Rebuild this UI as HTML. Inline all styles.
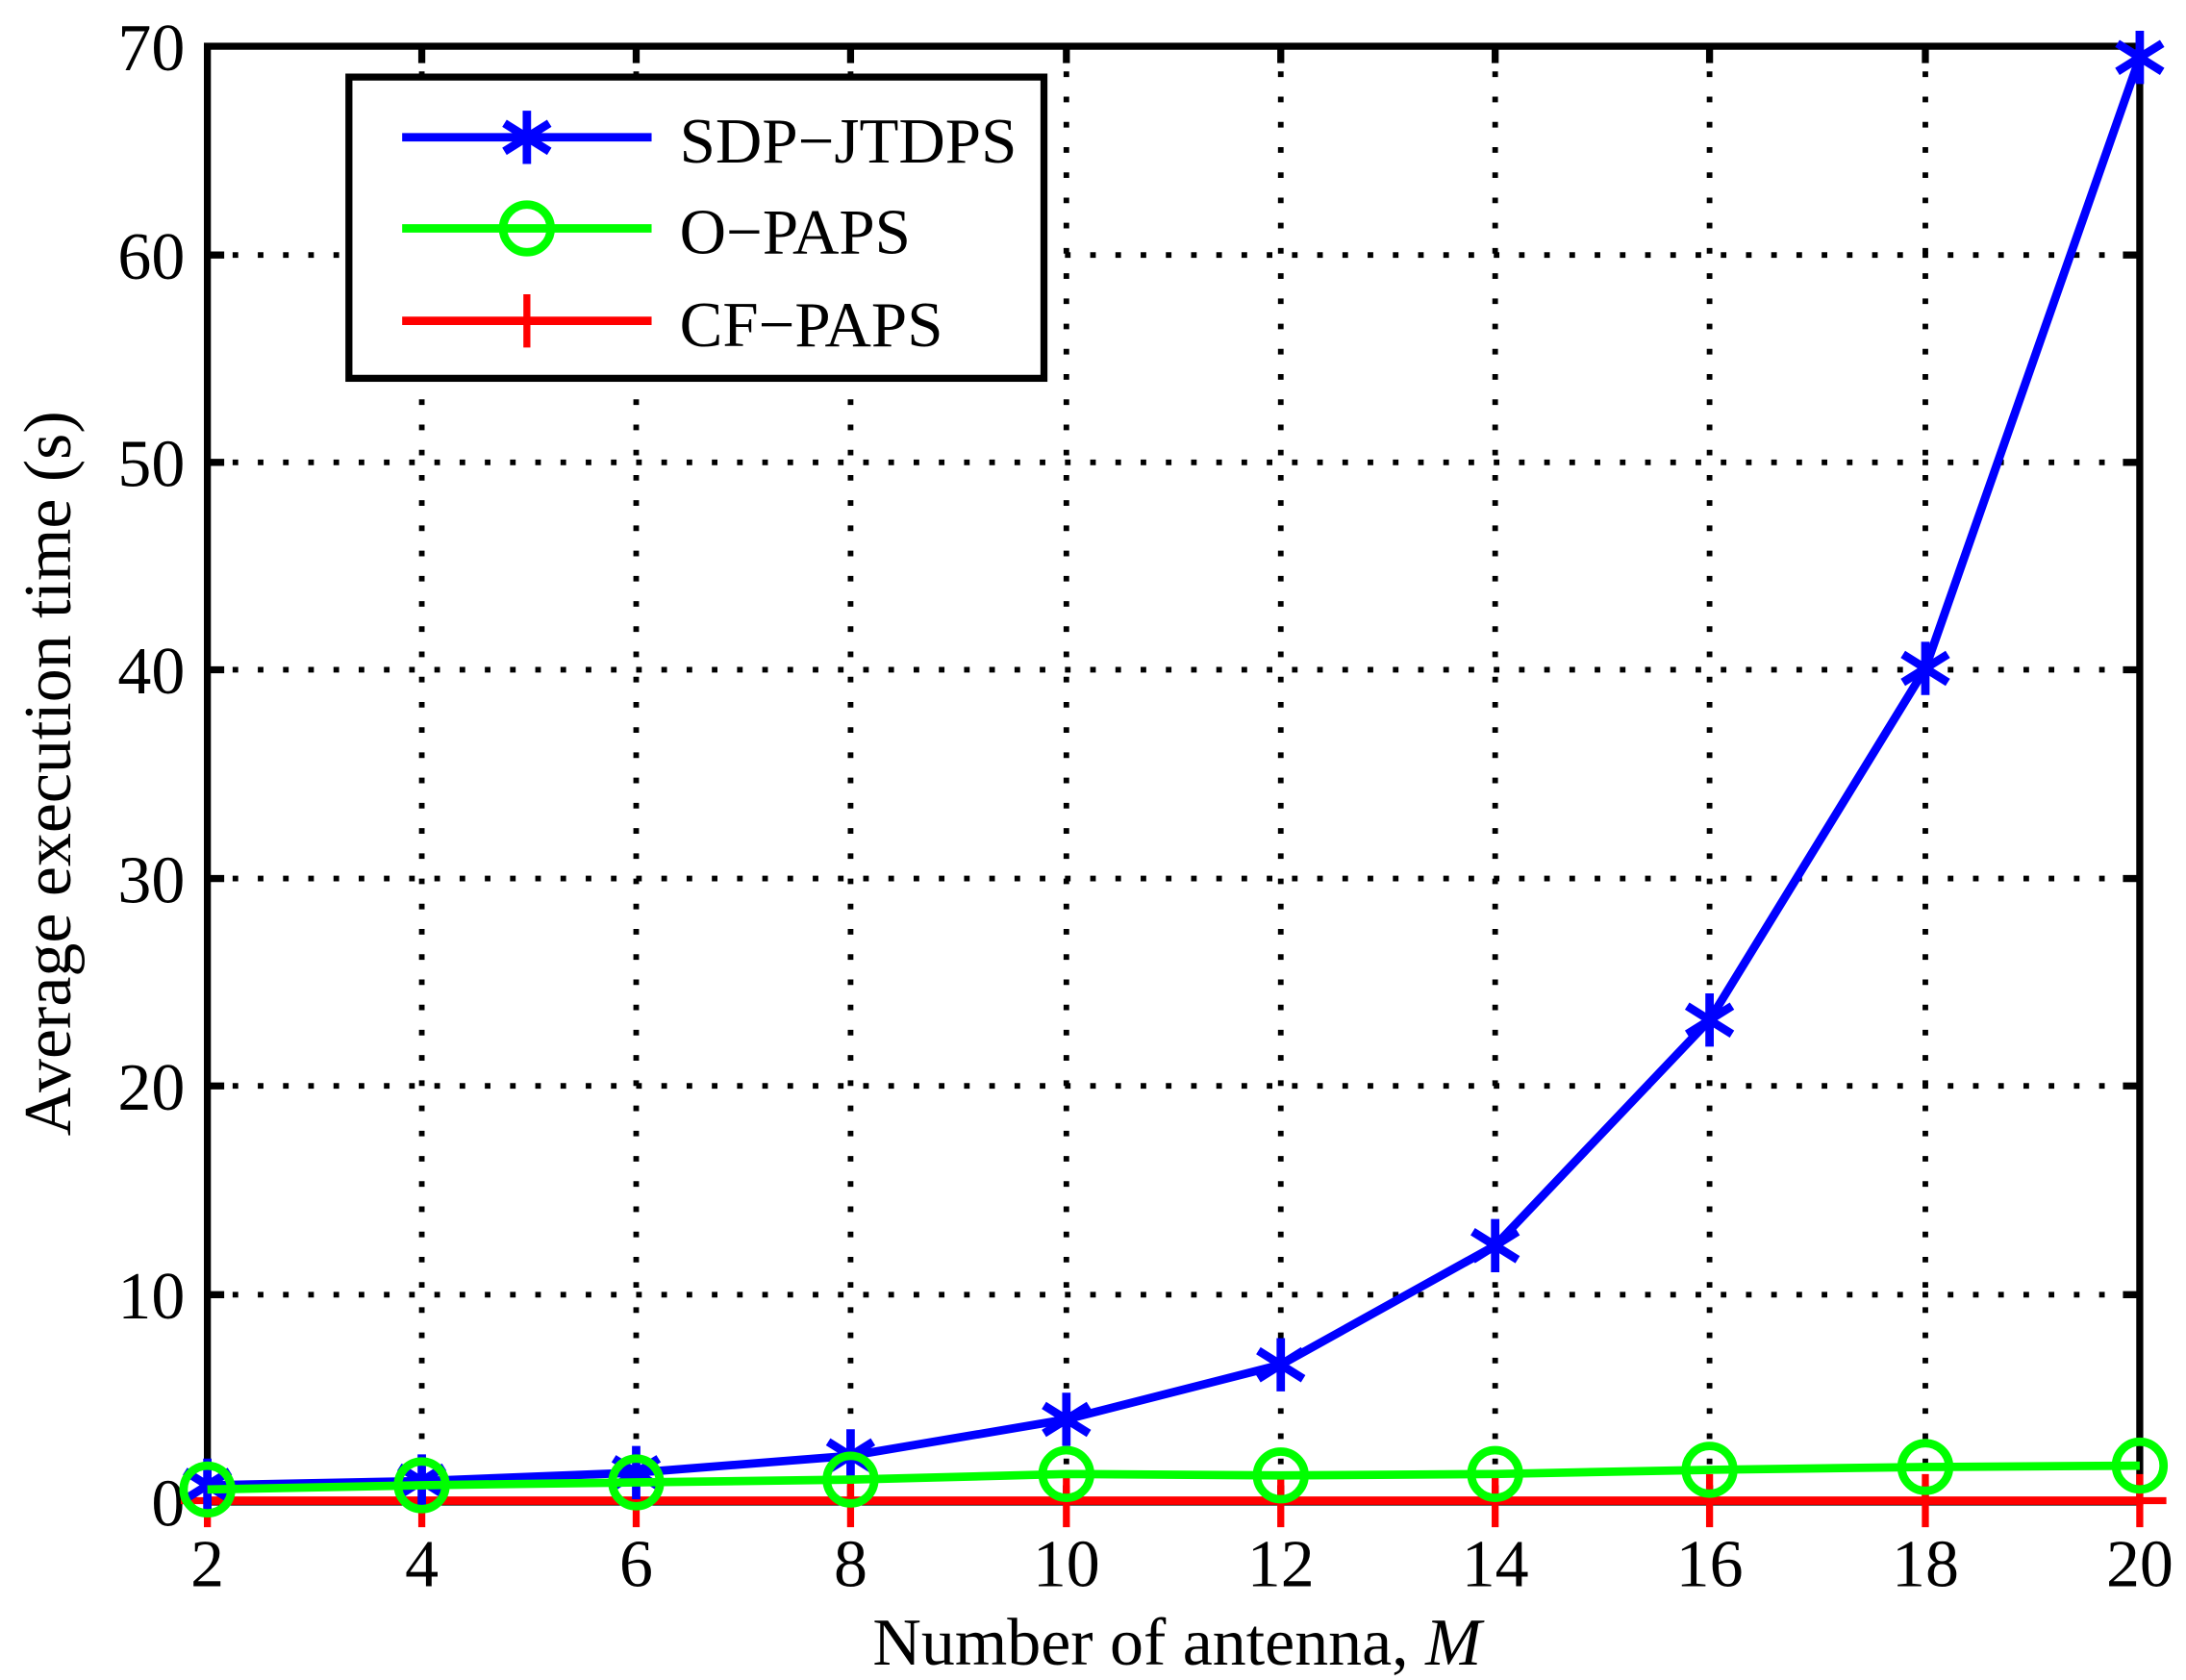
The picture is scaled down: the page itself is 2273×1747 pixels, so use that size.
<!DOCTYPE html>
<html><head><style>html,body{margin:0;padding:0;background:#fff}svg{display:block}</style></head>
<body>
<svg width="2273" height="1747" viewBox="0 0 1560 1199" preserveAspectRatio="none" xmlns="http://www.w3.org/2000/svg" font-family="Liberation Serif, serif">
<rect width="1560" height="1199" fill="#fff"/>
<g stroke="#000" stroke-width="4" stroke-dasharray="4 14">
<line x1="301" y1="33" x2="301" y2="1072"/><line x1="454" y1="33" x2="454" y2="1072"/><line x1="607" y1="33" x2="607" y2="1072"/><line x1="761" y1="33" x2="761" y2="1072"/><line x1="914" y1="33" x2="914" y2="1072"/><line x1="1067" y1="33" x2="1067" y2="1072"/><line x1="1220" y1="33" x2="1220" y2="1072"/><line x1="1374" y1="33" x2="1374" y2="1072"/>
<line x1="148" y1="924" x2="1527" y2="924"/><line x1="148" y1="775" x2="1527" y2="775"/><line x1="148" y1="627" x2="1527" y2="627"/><line x1="148" y1="478" x2="1527" y2="478"/><line x1="148" y1="330" x2="1527" y2="330"/><line x1="148" y1="182" x2="1527" y2="182"/>
</g>
<g stroke="#000" stroke-width="5">
<path d="M301 33v12M454 33v12M607 33v12M761 33v12M914 33v12M1067 33v12M1220 33v12M1374 33v12M301 1072v-12M454 1072v-12M607 1072v-12M761 1072v-12M914 1072v-12M1067 1072v-12M1220 1072v-12M1374 1072v-12"/>
<path d="M148 924h12M148 775h12M148 627h12M148 478h12M148 330h12M148 182h12M1527 924h-12M1527 775h-12M1527 627h-12M1527 478h-12M1527 330h-12M1527 182h-12"/>
<rect x="148" y="33" width="1379" height="1039" fill="none"/>
</g>
<g font-size="48" text-anchor="end">
<text x="132" y="1089">0</text><text x="132" y="941">10</text><text x="132" y="792">20</text><text x="132" y="644">30</text><text x="132" y="495">40</text><text x="132" y="347">50</text><text x="132" y="199">60</text><text x="132" y="50">70</text>
</g>
<g font-size="48" text-anchor="middle">
<text x="148" y="1132">2</text><text x="301" y="1132">4</text><text x="454" y="1132">6</text><text x="607" y="1132">8</text><text x="761" y="1132">10</text><text x="914" y="1132">12</text><text x="1067" y="1132">14</text><text x="1220" y="1132">16</text><text x="1374" y="1132">18</text><text x="1527" y="1132">20</text>
<text x="840" y="1188">Number of antenna,  <tspan font-style="italic">M</tspan></text>
<text transform="translate(50,552) rotate(-90)">Average execution time (s)</text>
</g>
<defs>
<g id="ast" stroke="#00f" stroke-width="6"><path d="M0 -19V19M-16 -10L16 10M-16 10L16 -10"/></g>
<circle id="cir" r="17" fill="none" stroke="#0f0" stroke-width="6"/>
<path id="pl" d="M0 -19V19M-19 0H19" stroke="#f00" stroke-width="5"/>
</defs>
<polyline fill="none" stroke="#f00" stroke-width="6" points="148,1071 1527,1071"/>
<g><use href="#pl" x="148" y="1071"/><use href="#pl" x="301" y="1071"/><use href="#pl" x="454" y="1071"/><use href="#pl" x="607" y="1071"/><use href="#pl" x="761" y="1071"/><use href="#pl" x="914" y="1071"/><use href="#pl" x="1067" y="1071"/><use href="#pl" x="1220" y="1071"/><use href="#pl" x="1374" y="1071"/><use href="#pl" x="1527" y="1071"/></g>
<polyline fill="none" stroke="#00f" stroke-width="6" points="148,1060 301,1057 454,1051 607,1039 761,1013 914,974 1067,889 1220,728 1374,477 1527,41"/>
<g><use href="#ast" x="148" y="1060"/><use href="#ast" x="301" y="1057"/><use href="#ast" x="454" y="1051"/><use href="#ast" x="607" y="1039"/><use href="#ast" x="761" y="1013"/><use href="#ast" x="914" y="974"/><use href="#ast" x="1067" y="889"/><use href="#ast" x="1220" y="728"/><use href="#ast" x="1374" y="477"/><use href="#ast" x="1527" y="41"/></g>
<polyline fill="none" stroke="#0f0" stroke-width="6" points="148,1063 301,1060 454,1058 607,1056 761,1052 914,1053 1067,1052 1220,1049 1374,1047 1527,1046"/>
<g><use href="#cir" x="148" y="1063"/><use href="#cir" x="301" y="1060"/><use href="#cir" x="454" y="1058"/><use href="#cir" x="607" y="1056"/><use href="#cir" x="761" y="1052"/><use href="#cir" x="914" y="1053"/><use href="#cir" x="1067" y="1052"/><use href="#cir" x="1220" y="1049"/><use href="#cir" x="1374" y="1047"/><use href="#cir" x="1527" y="1046"/></g>
<rect x="249" y="55" width="496" height="215" fill="#fff" stroke="#000" stroke-width="5"/>
<line x1="287" y1="98" x2="465" y2="98" stroke="#00f" stroke-width="6"/><use href="#ast" x="376" y="98"/>
<line x1="287" y1="163" x2="465" y2="163" stroke="#0f0" stroke-width="6"/><use href="#cir" x="376" y="163"/>
<line x1="287" y1="229" x2="465" y2="229" stroke="#f00" stroke-width="6"/><use href="#pl" x="376" y="229"/>
<g font-size="46"><text x="485" y="116">SDP−JTDPS</text><text x="485" y="181">O−PAPS</text><text x="485" y="247">CF−PAPS</text></g>
</svg>
</body></html>
